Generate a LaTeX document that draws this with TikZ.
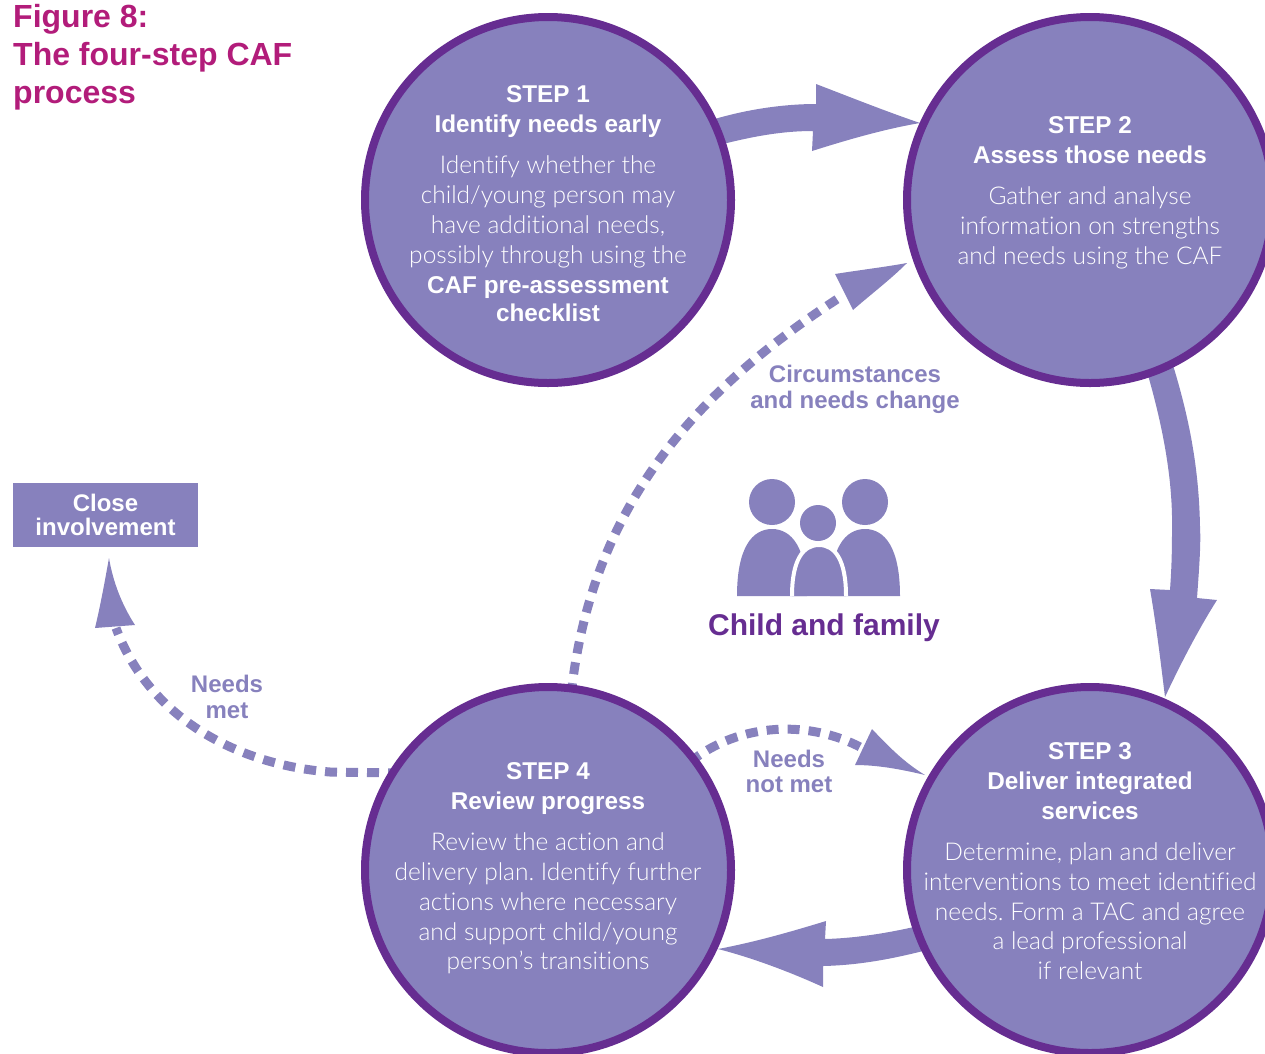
\documentclass[tikz,border=0pt]{standalone}
\usepackage{fontspec}
\setmainfont{Liberation Sans}
\newfontfamily\lightfont{Lato Light}[Ligatures=NoCommon]
\frenchspacing
\definecolor{lav}{RGB}{135,129,189}
\definecolor{dpur}{RGB}{102,45,145}
\definecolor{mag}{RGB}{178,28,122}
\begin{document}
\begin{tikzpicture}[x=1pt,y=-1pt,
  stepcircle/.style={circle, draw=dpur, fill=lav, line width=8pt, minimum size=366pt, inner sep=0pt},
  headtext/.style={anchor=base, inner sep=0pt, text=white, font=\bfseries\fontsize{24.3}{30}\selectfont},
  bodytext/.style={anchor=base, inner sep=0pt, text=white, font=\lightfont\fontsize{24.5}{30}\selectfont},
  labeltext/.style={anchor=base, inner sep=0pt, text=lav, font=\bfseries\fontsize{24}{26}\selectfont},
  titletext/.style={anchor=base west, inner sep=0pt, text=mag, font=\bfseries\fontsize{32}{38}\selectfont},
  dashline/.style={draw=lav, line width=9pt, dash pattern=on 12pt off 9pt},
  closebox/.style={fill=lav, text=white, align=center, minimum width=185pt, minimum height=64pt, inner sep=0pt, font=\bfseries\fontsize{24}{24}\selectfont}
]
\useasboundingbox (0,0) rectangle (1265,1053);
\clip (0,0) rectangle (1265,1053);

% solid arrows
\fill[lav] (705,122) .. controls (745,109) and (785,104) .. (816,104) -- (816,84)
  .. controls (855,99) and (885,111) .. (920,123)
  .. controls (885,129) and (850,139) .. (812,151) -- (813,131)
  .. controls (780,131) and (750,137) .. (715,146) -- cycle;
\fill[lav] (1145,365) .. controls (1163,425) and (1173,480) .. (1172,530)
  .. controls (1172,560) and (1171,575) .. (1170,590) -- (1150,589)
  .. controls (1157,630) and (1161,665) .. (1165,697)
  .. controls (1180,665) and (1198,630) .. (1217,600) -- (1197,598)
  .. controls (1199,570) and (1201,545) .. (1200,527)
  .. controls (1199,470) and (1190,420) .. (1172,362) -- cycle;
\fill[lav] (935,922) .. controls (895,932) and (860,938) .. (825,939) -- (826,921)
  .. controls (790,932) and (755,942) .. (718,949)
  .. controls (753,958) and (790,972) .. (823,987) -- (823,966)
  .. controls (865,965) and (900,957) .. (935,948) -- cycle;

% dashed arrows
\draw[dashline] (571,695) .. controls (590,520) and (680,400) .. (842,296);
\fill[lav] (835,274) .. controls (860,270) and (885,267) .. (907,263)
  .. controls (890,280) and (870,295) .. (853,310) -- cycle;
\draw[dashline] (690,762) .. controls (740,722) and (810,720) .. (862,748);
\fill[lav] (872,729) .. controls (890,748) and (905,763) .. (925,775)
  .. controls (900,769) and (877,765) .. (855,765) -- cycle;
\draw[dashline] (400,773) -- (330,772) .. controls (240,765) and (150,720) .. (116,628);
\fill[lav] (95,628) .. controls (101,603) and (105,580) .. (109,558)
  .. controls (113,582) and (122,605) .. (135,625) -- cycle;

% circles
\node[stepcircle] (s1) at (548,200) {};
\node[stepcircle] (s2) at (1090,200) {};
\node[stepcircle] (s3) at (1090,870) {};
\node[stepcircle] (s4) at (548,870) {};

% title
\node[titletext] (ti1) at (13,27) {Figure 8:};
\node[titletext] (ti2) at (13,65) {The four-step CAF};
\node[titletext] (ti3) at (13,103) {process};

% step 1
\node[headtext] (h1a) at (548,102) {STEP 1};
\node[headtext] (h1b) at (548,132) {Identify needs early};
\node[bodytext] (b1a) at (548,173) {Identify whether the};
\node[bodytext] (b1b) at (548,203) {child/young person may};
\node[bodytext] (b1c) at (548,233) {have additional needs,};
\node[bodytext] (b1d) at (548,263) {possibly through using the};
\node[headtext] (b1e) at (548,293) {CAF pre-assessment};
\node[headtext] (b1f) at (548,321) {checklist};

% step 2
\node[headtext] (h2a) at (1090,133) {STEP 2};
\node[headtext] (h2b) at (1090,163) {Assess those needs};
\node[bodytext] (b2a) at (1090,204) {Gather and analyse};
\node[bodytext] (b2b) at (1090,234) {information on strengths};
\node[bodytext] (b2c) at (1090,264) {and needs using the CAF};

% step 3
\node[headtext] (h3a) at (1090,759) {STEP 3};
\node[headtext] (h3b) at (1090,789) {Deliver integrated};
\node[headtext] (h3c) at (1090,819) {services};
\node[bodytext] (b3a) at (1090,860) {Determine, plan and deliver};
\node[bodytext] (b3b) at (1090,890) {interventions to meet identified};
\node[bodytext] (b3c) at (1090,920) {needs. Form a TAC and agree};
\node[bodytext] (b3d) at (1090,949) {a lead professional};
\node[bodytext] (b3e) at (1090,979) {if relevant};

% step 4
\node[headtext] (h4a) at (548,779) {STEP 4};
\node[headtext] (h4b) at (548,809) {Review progress};
\node[bodytext] (b4a) at (548,850) {Review the action and};
\node[bodytext] (b4b) at (548,880) {delivery plan. Identify further};
\node[bodytext] (b4c) at (548,910) {actions where necessary};
\node[bodytext] (b4d) at (548,940) {and support child/young};
\node[bodytext] (b4e) at (548,969) {person’s transitions};

% labels
\node[labeltext] (l1a) at (855,382) {Circumstances};
\node[labeltext] (l1b) at (855,408) {and needs change};
\node[labeltext] (l2a) at (789,767) {Needs};
\node[labeltext] (l2b) at (789,792) {not met};
\node[labeltext] (l3a) at (227,692) {Needs};
\node[labeltext] (l3b) at (227,718) {met};

% close box
\node[closebox] (close) at (105.5,515) {Close\\involvement};

% family icon
\fill[lav] (772,502) circle[radius=23];
\fill[lav] (865,502) circle[radius=23];
\fill[lav] (818,523) circle[radius=18];
\fill[lav] (737,596) .. controls (737,548) and (752,529) .. (772,529)
  .. controls (792,529) and (807,548) .. (807,596) -- cycle;
\fill[lav] (830,596) .. controls (830,548) and (845,529) .. (865,529)
  .. controls (885,529) and (900,548) .. (900,596) -- cycle;
\fill[lav] (792,596) .. controls (792,560) and (803,545) .. (819,545)
  .. controls (835,545) and (846,560) .. (846,596) -- cycle;
\draw[white, line width=4pt] (792,596) .. controls (792,560) and (803,545) .. (819,545)
  .. controls (835,545) and (846,560) .. (846,596);
\node[anchor=base, inner sep=0pt, text=dpur, font=\bfseries\fontsize{30}{36}\selectfont] (cf) at (824,635) {Child and family};
\end{tikzpicture}
\end{document}
